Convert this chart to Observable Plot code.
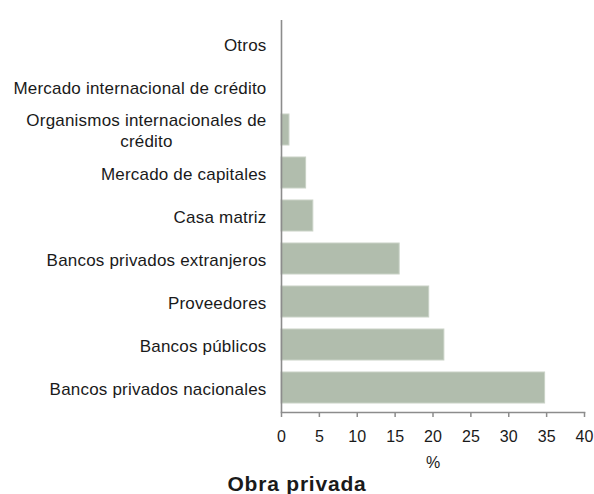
<!DOCTYPE html>
<html>
<head>
<meta charset="utf-8">
<script src="https://cdn.jsdelivr.net/npm/d3@7"></script>
<script src="https://cdn.jsdelivr.net/npm/@observablehq/plot@0.6"></script>
<style>
  html, body { margin: 0; padding: 0; background: #fff; }
  #chart { width: 594px; font-family: "Liberation Sans", Arial, Helvetica, sans-serif; }
  #title { text-align: center; font-weight: bold; font-size: 21px; letter-spacing: 0.8px; color: #1a1a1a; margin-top: 2px; }
</style>
</head>
<body>
<div id="chart"></div>
<div id="title" style="width:594px;font-family:'Liberation Sans', Arial, Helvetica, sans-serif;">Obra privada</div>
<script>
const categories = [
  "Otros",
  "Mercado internacional de crédito",
  "Organismos internacionales de crédito",
  "Mercado de capitales",
  "Casa matriz",
  "Bancos privados extranjeros",
  "Proveedores",
  "Bancos públicos",
  "Bancos privados nacionales"
];
const labels = [
  "Otros",
  "Mercado internacional de crédito",
  "Organismos internacionales de\ncrédito",
  "Mercado de capitales",
  "Casa matriz",
  "Bancos privados extranjeros",
  "Proveedores",
  "Bancos públicos",
  "Bancos privados nacionales"
];
const values = [0, 0, 1.05, 3.25, 4.2, 15.6, 19.5, 21.5, 34.8];
const xTicks = [0, 5, 10, 15, 20, 25, 30, 35, 40];
const xLabel = "%";

const data = categories.map((c, i) => ({cat: c, label: labels[i], value: values[i]}));

const chart = Plot.plot({
  width: 594,
  height: 470,
  marginLeft: 281,
  marginRight: 10,
  marginTop: 20,
  marginBottom: 58,
  style: {fontFamily: "'Liberation Sans', Arial, Helvetica, sans-serif", fontSize: "16px", color: "#1a1a1a", background: "#fff"},
  x: {domain: [0, 40], ticks: xTicks},
  y: {domain: categories, paddingInner: 0.27, paddingOuter: 0.135, axis: null},
  marks: [
    Plot.barX(data, {x: "value", y: "cat", fill: "#b1bdad", stroke: "#c9d2c6", strokeWidth: 1}),
    Plot.text(data, {y: "cat", text: "label", frameAnchor: "left", textAnchor: "end", dx: -15, lineHeight: 1.2, fill: "#1a1a1a", fontSize: 17, style: "letter-spacing:0.2px"}),
    Plot.ruleX([0], {stroke: "#8c8c8c", strokeWidth: 1.6}),
    Plot.frame({anchor: "bottom", stroke: "#8c8c8c", strokeWidth: 1.6}),
    Plot.axisX({ticks: xTicks, tickSize: 5, tickPadding: 13, stroke: "#8c8c8c", strokeWidth: 1.5, label: null, fill: "#1a1a1a", fontSize: 16}),
    Plot.text([xLabel], {frameAnchor: "bottom", dy: 55, fill: "#1a1a1a", fontSize: 16})
  ]
});

document.getElementById("chart").appendChild(chart);

// letter spacing for category labels
chart.querySelectorAll("g[aria-label='text'] text").forEach(t => {
  if (t.getAttribute("text-anchor") === "end" || t.parentNode.getAttribute("text-anchor") === "end") t.style.letterSpacing = "0.2px";
});

// center the second line of wrapped labels under the first line
chart.querySelectorAll("text").forEach(t => {
  const spans = t.querySelectorAll("tspan");
  if (spans.length === 2) {
    const w = spans[0].getComputedTextLength();
    spans[1].setAttribute("x", -w / 2);
    spans[1].setAttribute("text-anchor", "middle");
  }
});
</script>
</body>
</html>
